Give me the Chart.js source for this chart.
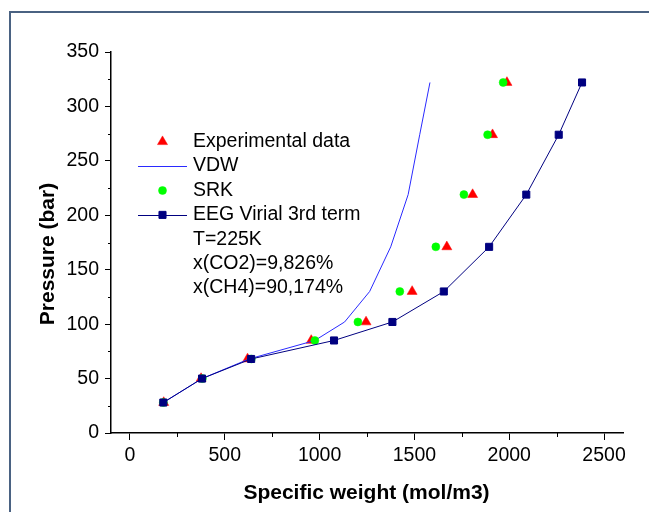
<!DOCTYPE html>
<html>
<head>
<meta charset="utf-8">
<title>Pressure vs specific weight</title>
<script src="https://cdn.jsdelivr.net/npm/chart.js@4.4.1/dist/chart.umd.min.js"></script>
<style>
  html, body { margin: 0; padding: 0; background: #fff; overflow: hidden; }
  #wrap { position: relative; width: 649px; height: 512px; overflow: hidden; }
  #frame {
    position: absolute; left: 9px; top: 11px; width: 700px; height: 600px;
    border-left: 2px solid #4a6282; border-top: 2px solid #4a6282;
    pointer-events: none;
  }
  canvas { display: block; }
</style>
</head>
<body>
<div id="wrap">
  <canvas id="pressure_chart" width="649" height="512"></canvas>
  <div id="frame"></div>
</div>
<script>
// pressure levels (bar), shared by every series
const pressure = [28, 50, 68, 85, 102, 130, 171, 219, 274, 322];

// specific weight (mol/m3) for each pressure level
const expWeight = [178, 375, 620, 956, 1245, 1488, 1671, 1807, 1912, 1988];
const vdwWeight = [176, 380, 628, 975, 1132, 1264, 1375, 1467, 1528, 1582];
const srkWeight = [176, 382, 640, 975, 1202, 1423, 1613, 1761, 1886, 1968];
const eegWeight = [176, 380, 639, 1076, 1384, 1655, 1894, 2090, 2261, 2384];

const xTicks = [0, 500, 1000, 1500, 2000, 2500];
const yTicks = [0, 50, 100, 150, 200, 250, 300, 350];

const notes = ['T=225K', 'x(CO2)=9,826%', 'x(CH4)=90,174%'];

const FONT = 'Arial, "Liberation Sans", sans-serif';
Chart.defaults.font.family = FONT;
Chart.defaults.color = '#000';

const toPoints = xs => xs.map((x, i) => ({ x: x, y: pressure[i] }));

// minor ticks halfway between the major ones
const minorTicks = {
  id: 'minorTicks',
  afterDraw(chart) {
    const ctx = chart.ctx;
    const { x, y } = chart.scales;
    ctx.save();
    ctx.strokeStyle = '#000';
    ctx.lineWidth = 1;
    ctx.beginPath();
    for (let i = 0; i < xTicks.length; i++) {
      const v = xTicks[i] + 250;
      if (v > x.max) break;
      const px = Math.round(x.getPixelForValue(v)) + 0.5;
      ctx.moveTo(px, x.top);
      ctx.lineTo(px, x.top + 4);
    }
    for (let i = 0; i < yTicks.length - 1; i++) {
      const py = Math.round(y.getPixelForValue(yTicks[i] + 25)) + 0.5;
      ctx.moveTo(y.right, py);
      ctx.lineTo(y.right - 3, py);
    }
    ctx.stroke();
    ctx.restore();
  }
};

// axis titles
const axisTitles = {
  id: 'axisTitles',
  afterDraw(chart) {
    const ctx = chart.ctx;
    ctx.save();
    ctx.fillStyle = '#000';
    ctx.font = 'bold 21px ' + FONT;
    ctx.textAlign = 'center';
    ctx.textBaseline = 'alphabetic';
    ctx.fillText('Specific weight (mol/m3)', 366.5, 498.5);
    ctx.translate(53.5, 254);
    ctx.rotate(-Math.PI / 2);
    ctx.fillText('Pressure (bar)', 0, 0);
    ctx.restore();
  }
};

// legend inside the plot, with the run conditions below it
const insideLegend = {
  id: 'insideLegend',
  afterDraw(chart) {
    const ctx = chart.ctx;
    const top = 141.7, rowH = 24.4, mx = 162.5, tx = 193;
    ctx.save();
    ctx.font = '19.5px ' + FONT;
    ctx.textBaseline = 'middle';
    ctx.textAlign = 'left';
    chart.data.datasets.forEach((ds, i) => {
      const yy = top + i * rowH;
      if (ds.showLine) {
        ctx.strokeStyle = ds.borderColor;
        ctx.lineWidth = ds.borderWidth;
        ctx.beginPath();
        ctx.moveTo(138, Math.round(yy) + 0.5);
        ctx.lineTo(187, Math.round(yy) + 0.5);
        ctx.stroke();
      }
      if (ds.pointRadius > 0) {
        ctx.fillStyle = ds.backgroundColor;
        ctx.strokeStyle = ds.borderColor;
        ctx.lineWidth = ds.pointBorderWidth;
        Chart.helpers.drawPoint(ctx, {
          pointStyle: ds.pointStyle,
          radius: ds.pointRadius,
          rotation: 0,
          borderWidth: ds.pointBorderWidth
        }, mx, yy);
      }
      ctx.fillStyle = '#000';
      ctx.fillText(ds.label, tx, yy);
    });
    notes.forEach((t, j) => {
      ctx.fillText(t, tx, top + (chart.data.datasets.length + j) * rowH);
    });
    ctx.restore();
  }
};

new Chart(document.getElementById('pressure_chart'), {
  type: 'scatter',
  data: {
    datasets: [
      {
        label: 'Experimental data',
        data: toPoints(expWeight),
        showLine: false,
        pointStyle: 'triangle',
        pointRadius: 5.8,
        pointBorderWidth: 0.5,
        backgroundColor: '#ff0000',
        borderColor: '#ff0000',
        order: 3
      },
      {
        label: 'VDW',
        data: toPoints(vdwWeight),
        showLine: true,
        borderColor: '#2a2aff',
        backgroundColor: '#2a2aff',
        borderWidth: 1,
        pointRadius: 0,
        order: 2
      },
      {
        label: 'SRK',
        data: toPoints(srkWeight),
        showLine: false,
        pointStyle: 'circle',
        pointRadius: 4,
        pointBorderWidth: 0.5,
        backgroundColor: '#00ff00',
        borderColor: '#00ff00',
        order: 1
      },
      {
        label: 'EEG Virial 3rd term',
        data: toPoints(eegWeight),
        showLine: true,
        pointStyle: 'rect',
        pointRadius: 5,
        pointBorderWidth: 1,
        borderWidth: 1,
        backgroundColor: '#000080',
        borderColor: '#000080',
        order: 0
      }
    ]
  },
  options: {
    responsive: false,
    animation: false,
    events: [],
    layout: { padding: { top: 52, right: 26, left: 0, bottom: 0 } },
    plugins: {
      legend: { display: false },
      tooltip: { enabled: false }
    },
    scales: {
      x: {
        type: 'linear',
        min: -100,
        max: 2600,
        afterBuildTicks: s => { s.ticks = xTicks.map(v => ({ value: v })); },
        afterFit: s => { s.height = 79; },
        grid: { drawOnChartArea: false, tickLength: 7, tickColor: '#000', tickWidth: 1 },
        border: { display: true, color: '#000', width: 1.5 },
        ticks: {
          font: { size: 19.5 }, color: '#000', padding: 4, maxRotation: 0,
          callback: v => String(v)
        }
      },
      y: {
        type: 'linear',
        min: 0,
        max: 350,
        afterBuildTicks: s => { s.ticks = yTicks.map(v => ({ value: v })); },
        afterFit: s => { s.width = 111; },
        grid: { drawOnChartArea: false, tickLength: 6, tickColor: '#000', tickWidth: 1 },
        border: { display: true, color: '#000', width: 1.5 },
        ticks: {
          font: { size: 19.5 }, color: '#000', padding: 6,
          callback: v => String(v)
        }
      }
    }
  },
  plugins: [minorTicks, axisTitles, insideLegend]
});
</script>
</body>
</html>
